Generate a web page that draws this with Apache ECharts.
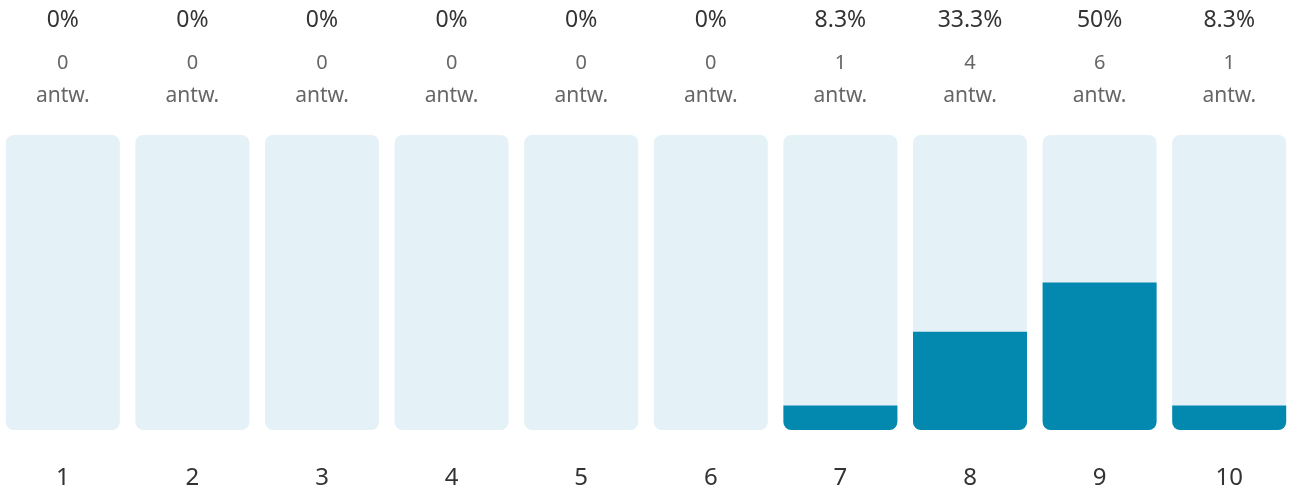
<!DOCTYPE html>
<html><head><meta charset="utf-8">
<script src="https://cdn.jsdelivr.net/npm/echarts@6/dist/echarts.min.js"></script>
<style>html,body{margin:0;padding:0;background:#fff}#c{width:1292px;height:491px}</style>
</head><body><div id="c"></div>
<script>
const categories = ['1','2','3','4','5','6','7','8','9','10'];
const counts = [0,0,0,0,0,0,1,4,6,1];
const percentValues = [0,0,0,0,0,0,8.3,33.3,50,8.3];
const percentLabels = ['0%','0%','0%','0%','0%','0%','8.3%','33.3%','50%','8.3%'];
const unitLabel = 'antw.';

const chart = echarts.init(document.getElementById('c'));
const FONT = '"Noto Sans", sans-serif';
chart.setOption({
  animation: false,
  grid: { left: -2, width: 1296, top: 135, bottom: 61, outerBoundsMode: 'none', containLabel: false },
  xAxis: [
    { type: 'category', data: categories, position: 'bottom',
      axisLine: {show:false}, axisTick: {show:false},
      axisLabel: { margin: 36, fontFamily: FONT, fontSize: 24, color: '#333', lineHeight: 24 } },
    { type: 'category', data: categories, position: 'top',
      axisLine: {show:false}, axisTick: {show:false},
      axisLabel: { margin: 22, fontFamily: FONT,
        formatter: (v, i) => '{p|' + percentLabels[i] + '}\n{c|' + counts[i] + '}\n{a|' + unitLabel + '}',
        rich: {
          p: { fontFamily: FONT, fontSize: 23, color: '#333', lineHeight: 54 },
          c: { fontFamily: FONT, fontSize: 20, color: '#666', lineHeight: 32 },
          a: { fontFamily: FONT, fontSize: 21, color: '#666', lineHeight: 34 }
        } } }
  ],
  yAxis: { type: 'value', min: 0, max: 100, show: false, splitLine: {show:false} },
  series: [{
    type: 'bar', data: percentValues, barWidth: 114,
    showBackground: true,
    backgroundStyle: { color: '#e4f1f6', borderRadius: 8 },
    itemStyle: { color: '#0388b0', borderRadius: [0,0,8,8] }
  }]
});
</script></body></html>
